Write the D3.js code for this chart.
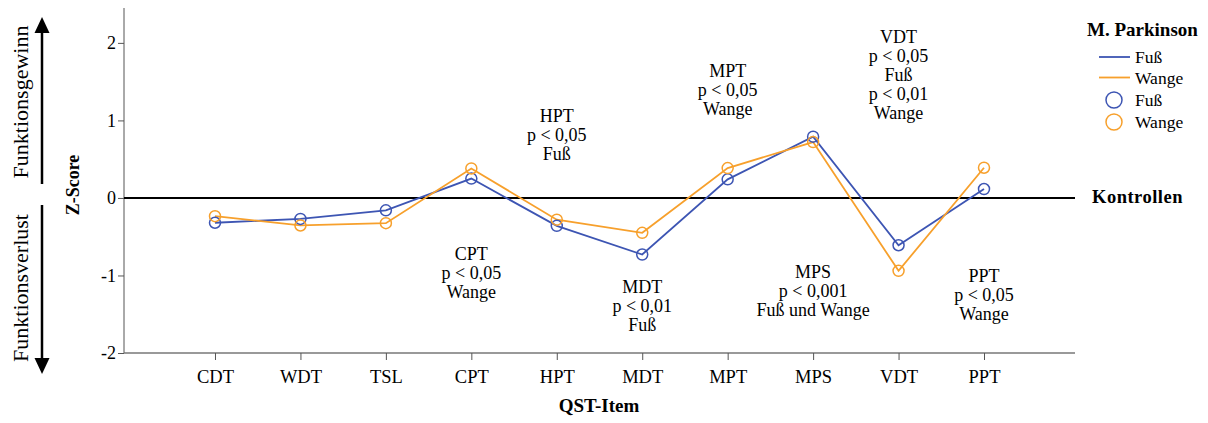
<!DOCTYPE html>
<html><head><meta charset="utf-8">
<script src="https://cdn.jsdelivr.net/npm/d3@7"></script>
<style>
body{margin:0;background:#fff;}
svg text{font-family:"Liberation Serif","Times New Roman",serif;fill:#000;}
</style></head><body>
<svg id="c" width="1208" height="423" font-family="Liberation Serif"></svg>
<script>
const categories = ["CDT","WDT","TSL","CPT","HPT","MDT","MPT","MPS","VDT","PPT"];
const fussValues = [-0.32,-0.27,-0.16,0.25,-0.36,-0.73,0.24,0.79,-0.61,0.115];
const wangeValues = [-0.235,-0.355,-0.325,0.38,-0.28,-0.45,0.385,0.72,-0.94,0.39];
const yTicks = [-2,-1,0,1,2];
const seriesNames = ["Fuß","Wange"];
const annotations = [
  {cat:"CPT", lines:["CPT","p < 0,05","Wange"]},
  {cat:"HPT", lines:["HPT","p < 0,05","Fuß"]},
  {cat:"MDT", lines:["MDT","p < 0,01","Fuß"]},
  {cat:"MPT", lines:["MPT","p < 0,05","Wange"]},
  {cat:"MPS", lines:["MPS","p < 0,001","Fuß und Wange"]},
  {cat:"VDT", lines:["VDT","p < 0,05","Fuß","p < 0,01","Wange"]},
  {cat:"PPT", lines:["PPT","p < 0,05","Wange"]}
];
const annBaseline = {CPT:260, HPT:122, MDT:293, MPT:77, MPS:278, VDT:43, PPT:282};

(function(){
const colors = {"Fuß":"#3d55b3","Wange":"#f7a02c"};
const svg = d3.select("#c");
const L=124, R=1075, T=8, B=353;
const x = d3.scalePoint().domain(categories).range([L,R]).padding(1.065);
const y = d3.scaleLinear().domain([-2,2.45]).range([B,T]);

// y axis
const ya = svg.append("g").attr("transform",`translate(${L},0)`)
  .call(d3.axisLeft(y).tickValues(yTicks).tickSize(6).tickSizeOuter(0).tickFormat(d=>String(d)));
ya.attr("font-family",null);
ya.select(".domain").attr("stroke","#555").attr("d",`M0,${T}V${B}`);
ya.selectAll(".tick line").attr("stroke","#555");
ya.selectAll(".tick text").attr("font-size",18).attr("fill","#000").attr("x",-8);

// x axis
const xa = svg.append("g").attr("transform",`translate(0,${B})`)
  .call(d3.axisBottom(x).tickSize(7).tickSizeOuter(0));
xa.attr("font-family",null);
xa.select(".domain").attr("stroke","#777").attr("stroke-width",1.5).attr("d",`M${L},0H${R}`);
xa.selectAll(".tick line").attr("stroke","#555");
xa.selectAll(".tick text").attr("font-size",18.5).attr("fill","#000").attr("dy","1.1em");

// zero line
svg.append("line").attr("x1",L).attr("x2",R).attr("y1",y(0)).attr("y2",y(0))
  .attr("stroke","#000").attr("stroke-width",2);

// series
const series = [{name:"Fuß",values:fussValues},{name:"Wange",values:wangeValues}];
const line = d3.line().x((d,i)=>x(categories[i])).y(d=>y(d));
series.forEach(s=>{
  svg.append("path").attr("d",line(s.values)).attr("fill","none")
    .attr("stroke",colors[s.name]).attr("stroke-width",1.8);
});
series.forEach(s=>{
  svg.append("g").selectAll("circle").data(s.values).join("circle")
    .attr("cx",(d,i)=>x(categories[i])).attr("cy",d=>y(d)).attr("r",5.5)
    .attr("fill","none").attr("stroke",colors[s.name]).attr("stroke-width",1.5);
});

// annotations
annotations.forEach(a=>{
  const t = svg.append("text").attr("text-anchor","middle").attr("font-size",18);
  a.lines.forEach((l,i)=>{
    t.append("tspan").attr("x",x(a.cat)).attr("y",annBaseline[a.cat]+i*19).text(l);
  });
});

// axis titles
svg.append("text").attr("x",599).attr("y",412).attr("text-anchor","middle")
  .attr("font-size",19).attr("font-weight","bold").text("QST-Item");
svg.append("text").attr("transform","translate(79,185) rotate(-90)").attr("text-anchor","middle")
  .attr("font-size",18).attr("font-weight","bold").text("Z-Score");

// left side labels + arrows
svg.append("text").attr("transform","translate(28,102) rotate(-90)").attr("text-anchor","middle")
  .attr("font-size",22).text("Funktionsgewinn");
svg.append("text").attr("transform","translate(28,288) rotate(-90)").attr("text-anchor","middle")
  .attr("font-size",22).text("Funktionsverlust");
svg.append("line").attr("x1",42).attr("x2",42).attr("y1",30).attr("y2",184).attr("stroke","#000").attr("stroke-width",2.5);
svg.append("path").attr("d","M42,17 L34.5,33 L49.5,33 Z").attr("fill","#000");
svg.append("line").attr("x1",42).attr("x2",42).attr("y1",205).attr("y2",360).attr("stroke","#000").attr("stroke-width",2.5);
svg.append("path").attr("d","M42,374 L34.5,358 L49.5,358 Z").attr("fill","#000");

// Kontrollen
svg.append("text").attr("x",1092).attr("y",203).attr("font-size",18.5).attr("font-weight","bold")
  .attr("letter-spacing",0.5).text("Kontrollen");

// legend
const lg = svg.append("g");
lg.append("text").attr("x",1087).attr("y",36).attr("font-size",19).attr("font-weight","bold").text("M. Parkinson");
seriesNames.forEach((n,i)=>{
  const yy = 57+i*20.5;
  lg.append("line").attr("x1",1099).attr("x2",1130).attr("y1",yy).attr("y2",yy)
    .attr("stroke",colors[n]).attr("stroke-width",1.8);
  lg.append("text").attr("x",1135).attr("y",yy+6).attr("font-size",17.5).text(n);
});
seriesNames.forEach((n,i)=>{
  const yy = 100+i*22;
  lg.append("circle").attr("cx",1114).attr("cy",yy).attr("r",8)
    .attr("fill","none").attr("stroke",colors[n]).attr("stroke-width",1.5);
  lg.append("text").attr("x",1135).attr("y",yy+6).attr("font-size",17.5).text(n);
});
})();
</script>
</body></html>
